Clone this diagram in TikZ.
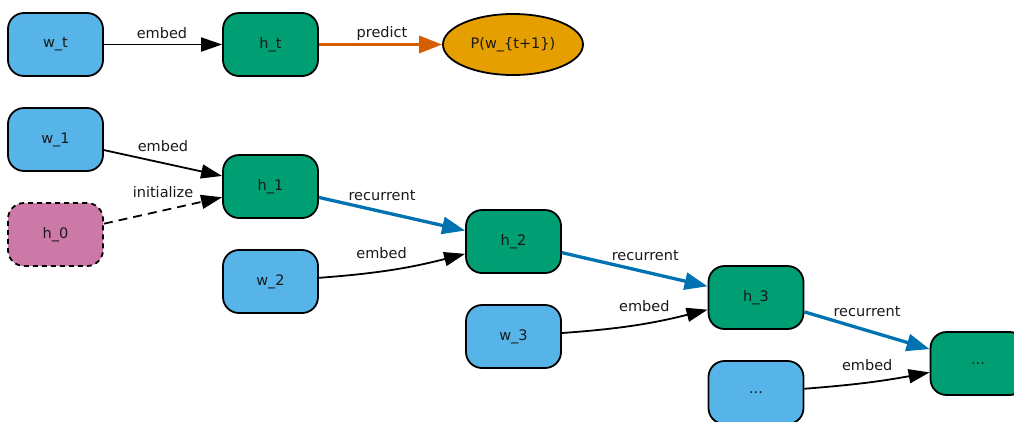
\documentclass[tikz,border=0pt]{standalone}
\usepackage{fontspec}
\setmainfont{DejaVu Sans}
\usetikzlibrary{arrows.meta,shapes.geometric}
\definecolor{wordblue}{HTML}{56B4E9}
\definecolor{stategreen}{HTML}{009E73}
\definecolor{probamber}{HTML}{E69F00}
\definecolor{initpink}{HTML}{CC79A7}
\definecolor{recblue}{HTML}{0072B2}
\definecolor{predvermilion}{HTML}{D55E00}

\begin{document}
\begin{tikzpicture}[x=1pt,y=-1pt,
  txt/.style={font=\fontsize{14.5}{17}\selectfont, text=black!90},
  box/.style={txt, draw=black, line width=1.8pt, rounded corners=16pt,
    minimum width=95pt, minimum height=63pt, inner sep=0pt},
  wordbox/.style={box, fill=wordblue},
  statebox/.style={box, fill=stategreen},
  initbox/.style={box, fill=initpink, dash pattern=on 5pt off 4pt},
  probnode/.style={txt, draw=black, line width=1.8pt, ellipse, fill=probamber,
    minimum width=140pt, minimum height=61pt, inner sep=0pt},
  elabel/.style={txt, inner sep=0pt},
  embededge/.style={draw=black, line width=1.8pt, -{Triangle[length=21pt,width=14pt]}},
  initedge/.style={embededge, dash pattern=on 9pt off 6pt},
  recedge/.style={draw=recblue, line width=3.3pt, -{Triangle[length=23pt,width=17pt]}},
  prededge/.style={draw=predvermilion, line width=3.3pt, -{Triangle[length=23pt,width=17pt]}}
]
\clip (0,0) rectangle (1014,421);
\useasboundingbox (0,0) rectangle (1014,421);

% single-step view
\node[wordbox]  (wt) at (55.5,44.5) {w\_t};
\node[statebox] (ht) at (270.5,44.5) {h\_t};
\node[probnode] (pn) at (513,44.5) {P(w\_\{t+1\})};

% unrolled sequence
\node[wordbox]  (w1) at (55.5,139.5) {w\_1};
\node[initbox]  (h0) at (55.5,234.5) {h\_0};
\node[statebox] (h1) at (270.5,186.5) {h\_1};
\node[wordbox]  (w2) at (270.5,281.5) {w\_2};
\node[statebox] (h2) at (513.5,241.5) {h\_2};
\node[wordbox]  (w3) at (513.5,336.5) {w\_3};
\node[statebox] (h3) at (756,297.5) {h\_3};
\node[wordbox]  (wn) at (756,392.5) {...};
\node[statebox] (hn) at (978,363.5) {...};

\draw[embededge] (wt) -- node[elabel, midway, xshift=-1pt, yshift=11.5pt] {embed} (ht);
\draw[prededge]  (ht) -- node[elabel, midway, xshift=1.5pt, yshift=11.5pt] {predict} (pn);

\draw[embededge] (w1) -- node[elabel, midway, yshift=17pt] {embed} (h1);
\draw[initedge]  (h0) -- node[elabel, midway, yshift=18pt] {initialize} (h1);

\draw[recedge]   (h1) -- node[elabel, midway, xshift=-10pt, yshift=18.5pt] {recurrent} (h2);
\draw[embededge] (w2) to[bend right=5] node[elabel, midway, xshift=-11pt, yshift=16pt] {embed} (h2);

\draw[recedge]   (h2) -- node[elabel, midway, xshift=10.5pt, yshift=14pt] {recurrent} (h3);
\draw[embededge] (w3) to[bend right=5] node[elabel, midway, xshift=9pt, yshift=19pt] {embed} (h3);

\draw[recedge]   (h3) -- node[elabel, midway, yshift=18.5pt] {recurrent} (hn);
\draw[embededge] (wn) to[bend right=3] node[elabel, midway, yshift=17pt] {embed} (hn);
\end{tikzpicture}
\end{document}
